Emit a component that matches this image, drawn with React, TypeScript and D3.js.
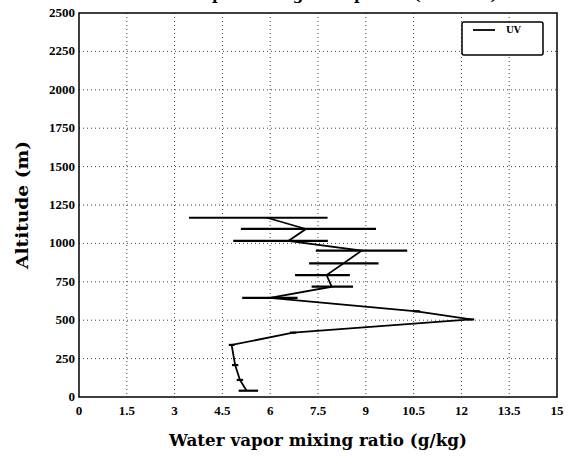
import React from "react";
import * as d3 from "d3";

const xTicks = [0, 1.5, 3, 4.5, 6, 7.5, 9, 10.5, 12, 13.5, 15];
const yTicks = [0, 250, 500, 750, 1000, 1250, 1500, 1750, 2000, 2250, 2500];

const altitude = [41, 111, 208, 339, 419, 505, 558, 645, 718, 794, 870, 953, 1016, 1094, 1167];
const mixingRatio = [5.26, 5.05, 4.9, 4.79, 6.72, 12.3, 10.6, 5.99, 7.93, 7.77, 8.3, 8.87, 6.57, 7.12, 5.9];
const errLow = [5.01, 4.95, 4.8, 4.7, 6.62, 12.2, 10.5, 5.12, 7.3, 6.78, 7.22, 7.43, 4.84, 5.08, 3.45];
const errHigh = [5.62, 5.15, 5.0, 4.88, 6.82, 12.4, 10.7, 6.86, 8.6, 8.5, 9.4, 10.3, 7.81, 9.32, 7.8];

const seriesName = "UV";
const xTitle = "Water vapor mixing ratio (g/kg)";
const yTitle = "Altitude (m)";
const chartTitle = "Water vapor mixing ratio profile (UV lidar)";

export default function App() {
  const W = 580;
  const H = 457;
  const x = d3.scaleLinear().domain([0, 15]).range([79, 557]);
  const y = d3.scaleLinear().domain([0, 2500]).range([397, 13]);
  const pts = altitude.map((h, i) => ({ h, v: mixingRatio[i], lo: errLow[i], hi: errHigh[i] }));
  const line = d3
    .line<{ h: number; v: number }>()
    .x((d) => x(d.v))
    .y((d) => y(d.h));
  const serif = "'DejaVu Serif', 'Liberation Serif', serif";
  const tickFont = "'Liberation Serif', serif";
  return (
    <div style={{ position: "absolute", left: 0, top: 0 }}>
      <svg width={W} height={H} style={{ display: "block", background: "#fff" }}>
        <text x={318} y={0} textAnchor="middle" fontFamily={serif} fontWeight="bold" fontSize={15}>
          {chartTitle}
        </text>
        {/* grid */}
        {xTicks.slice(1, -1).map((t) => (
          <line key={"gx" + t} x1={x(t)} x2={x(t)} y1={y(2500)} y2={y(0)} stroke="#444" strokeWidth={1} strokeDasharray="1,3" />
        ))}
        {yTicks.slice(1, -1).map((t) => (
          <line key={"gy" + t} x1={x(0)} x2={x(15)} y1={y(t)} y2={y(t)} stroke="#444" strokeWidth={1} strokeDasharray="1,3" />
        ))}
        {/* frame */}
        <rect x={x(0)} y={y(2500)} width={x(15) - x(0)} height={y(0) - y(2500)} fill="none" stroke="#000" strokeWidth={1.5} />
        {/* tick labels */}
        {xTicks.map((t) => (
          <text key={"xt" + t} x={x(t)} y={415} textAnchor="middle" fontFamily={tickFont} fontSize={13} fontWeight="bold">
            {String(t)}
          </text>
        ))}
        {yTicks.map((t) => (
          <text key={"yt" + t} x={75} y={y(t) + 4} textAnchor="end" fontFamily={tickFont} fontSize={13} fontWeight="bold">
            {String(t)}
          </text>
        ))}
        {/* axis titles */}
        <text x={318} y={446} textAnchor="middle" fontFamily={serif} fontWeight="bold" fontSize={16} textLength={298} lengthAdjust="spacingAndGlyphs">
          {xTitle}
        </text>
        <text
          transform={`translate(28, ${(y(0) + y(2500)) / 2}) rotate(-90)`}
          textAnchor="middle"
          fontFamily={serif}
          fontWeight="bold"
          fontSize={16}
          textLength={128}
          lengthAdjust="spacingAndGlyphs"
        >
          {yTitle}
        </text>
        {/* error bars */}
        {pts.map((d, i) => (
          <line key={"eb" + i} x1={x(d.lo)} x2={x(d.hi)} y1={y(d.h)} y2={y(d.h)} stroke="#000" strokeWidth={2.2} />
        ))}
        {/* profile */}
        <path d={line(pts) || ""} fill="none" stroke="#000" strokeWidth={1.8} />
        {/* legend */}
        <rect x={462} y={22} width={81} height={33} rx={2} fill="#fff" stroke="#000" strokeWidth={1.5} />
        <line x1={473} x2={495} y1={30} y2={30} stroke="#000" strokeWidth={1.8} />
        <text x={506} y={33} fontFamily={serif} fontWeight="bold" fontSize={9}>
          {seriesName}
        </text>
      </svg>
    </div>
  );
}
